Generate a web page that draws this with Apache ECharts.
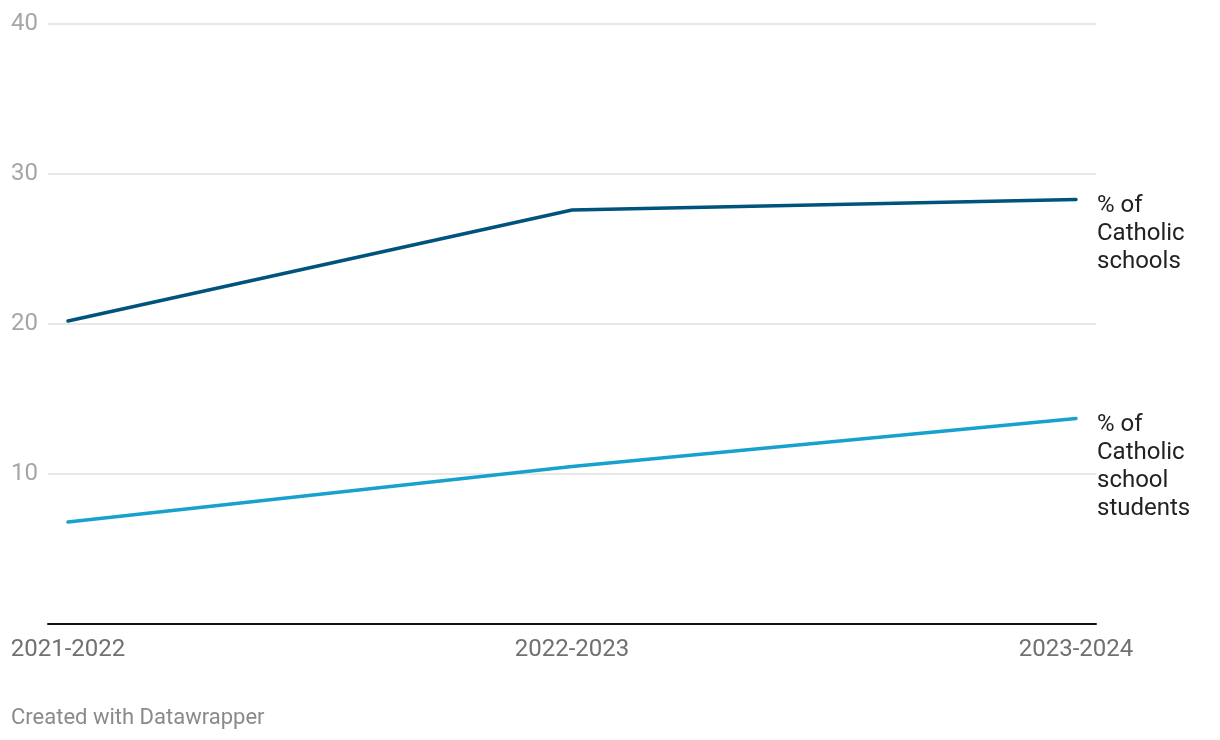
<!DOCTYPE html>
<html>
<head>
<meta charset="utf-8">
<script src="https://cdn.jsdelivr.net/npm/echarts@6/dist/echarts.min.js"></script>
<style>
  html, body { margin: 0; padding: 0; background: #fff; }
  #main { width: 1220px; height: 740px; }
</style>
</head>
<body>
<div id="main"></div>
<script>
// chart data
const years = ['2021-2022', '2022-2023', '2023-2024'];
const pctSchools = [20.2, 27.6, 28.3];
const pctStudents = [6.8, 10.5, 13.7];
const yTicks = [0, 10, 20, 30, 40];

const font = 'Roboto, "Noto Sans", sans-serif';
const chart = echarts.init(document.getElementById('main'));

const yBase = {
  type: 'value',
  min: yTicks[0],
  max: yTicks[yTicks.length - 1],
  interval: 10,
  axisLine: { show: false },
  axisTick: { show: false }
};

chart.setOption({
  animation: false,
  textStyle: { fontFamily: font },
  grid: [
    // background grid: gridlines + baseline, a bit wider than the data
    { left: 48, right: 124, top: 24, bottom: 116 },
    // data grid
    { left: 68, right: 144, top: 24, bottom: 116 }
  ],
  xAxis: [
    {
      gridIndex: 0, type: 'category', data: years, boundaryGap: false,
      axisLine: { show: true, lineStyle: { color: '#111', width: 2 } },
      axisTick: { show: false }, axisLabel: { show: false }
    },
    {
      gridIndex: 1, type: 'category', data: years, boundaryGap: false,
      axisLine: { show: false }, axisTick: { show: false },
      axisLabel: {
        color: '#707070', fontSize: 24, margin: 14, fontFamily: font
      }
    }
  ],
  yAxis: [
    Object.assign({}, yBase, {
      gridIndex: 0,
      splitLine: { lineStyle: { color: '#e1e1e1', width: 1.5 } },
      axisLabel: {
        color: '#a6a6a6', fontSize: 24, align: 'left', margin: 37,
        fontFamily: font,
        formatter: v => (v === 0 ? '' : String(v))
      }
    }),
    Object.assign({}, yBase, {
      gridIndex: 1,
      splitLine: { show: false },
      axisLabel: { show: false }
    })
  ],
  series: [
    {
      name: '% of Catholic schools',
      type: 'line',
      xAxisIndex: 1, yAxisIndex: 1,
      data: pctSchools,
      symbol: 'none',
      lineStyle: { color: '#00537d', width: 3.5, cap: 'round' },
      itemStyle: { color: '#00537d' },
      endLabel: {
        show: true,
        formatter: '% of\nCatholic\nschools',
        color: '#222', fontSize: 24, lineHeight: 28,
        align: 'left', verticalAlign: 'top',
        distance: 21, offset: [0, -8], fontFamily: font
      }
    },
    {
      name: '% of Catholic school students',
      type: 'line',
      xAxisIndex: 1, yAxisIndex: 1,
      data: pctStudents,
      symbol: 'none',
      lineStyle: { color: '#18a1cd', width: 3.5, cap: 'round' },
      itemStyle: { color: '#18a1cd' },
      endLabel: {
        show: true,
        formatter: '% of\nCatholic\nschool\nstudents',
        color: '#222', fontSize: 24, lineHeight: 28,
        align: 'left', verticalAlign: 'top',
        distance: 21, offset: [0, -8], fontFamily: font
      }
    }
  ],
  graphic: [
    {
      type: 'text', left: 11, top: 707,
      style: { text: 'Created with Datawrapper', fill: '#8a8a8a', fontSize: 22, fontFamily: font }
    }
  ]
});
</script>
</body>
</html>
